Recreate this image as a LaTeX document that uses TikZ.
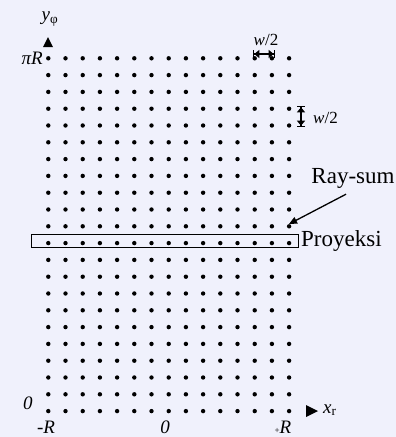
\documentclass[tikz,border=0pt]{standalone}
\usepackage{fontspec}
\setmainfont{Liberation Serif}
\usetikzlibrary{arrows.meta, calc, positioning}
\definecolor{scanBg}{HTML}{F0F1FC}
\tikzset{
  gdot/.style     = {circle, fill=black, inner sep=0pt, minimum size=4.4pt},
  tick/.style     = {font=\fontsize{19}{21}\selectfont, inner sep=0pt},
  wlbl/.style     = {font=\fontsize{17}{19}\selectfont, inner sep=0pt},
  biglbl/.style   = {font=\fontsize{23}{26}\selectfont, inner sep=0pt},
  projbox/.style  = {draw=black, line width=1.1pt},
  rayarrow/.style = {-{Triangle[length=8pt, width=7pt]}, line width=1.3pt},
  dimline/.style  = {{Bar[width=8pt]Triangle[length=5pt, width=8pt]}-{Triangle[length=5pt, width=8pt]Bar[width=8pt]},
                     line width=1.3pt},
}

\begin{document}
\begin{tikzpicture}[x=1pt, y=-1pt]
  \fill[scanBg] (0,0) rectangle (396,437);
  \useasboundingbox (0,0) rectangle (396,437);

  % sample grid : 15 columns, 22 rows (row 0 = pi R)
  \foreach \i in {0,...,14}
    \foreach \j in {0,...,21}
      \node[gdot] (d\i-\j) at ({48.3+17.2*\i},{58.3+16.8*\j}) {};

  % axis tips
  \fill (43,47) -- (48,37) -- (53,47) -- cycle;
  \fill (306,405) -- (318,411) -- (306,417) -- cycle;

  \node[tick] (yphi) at (50,19) {\textit{y}\textsubscript{φ}};
  \node[tick, anchor=west] (xr) at (323,410) {\textit{x}\textsubscript{r}};

  \node[tick, anchor=east] (piR) at (43,58) {\textit{πR}};
  \node[tick] (zeroV) at (28,403) {\textit{0}};
  \node[tick] (minR)  at (46,427) {-\textit{R}};
  \node[tick] (zeroH) at (165,427) {\textit{0}};
  \node[tick] (plusR) at (283,427) {{\small+}\textit{R}};

  % w/2 markers
  \draw[dimline] (253,54) -- (275,54);
  \node[wlbl] (wh) at (266,40) {\textit{w}/2};
  \draw[dimline] (301,106) -- (301,127);
  \node[wlbl, anchor=west] (wv) at (313,118) {\textit{w}/2};

  % projection row
  \draw[projbox] ($(d0-11)+(-17,-9)$) rectangle ($(d14-11)+(9,4)$);
  \node[biglbl, anchor=west] (proy) at (301,241) {Proyeksi};

  \node[biglbl] (raysum) at (353,178) {Ray-sum};
  \coordinate (rayend) at (289,224);
  \draw[rayarrow] ([xshift=-7pt, yshift=-6pt]raysum.south) -- (rayend);
\end{tikzpicture}
\end{document}
